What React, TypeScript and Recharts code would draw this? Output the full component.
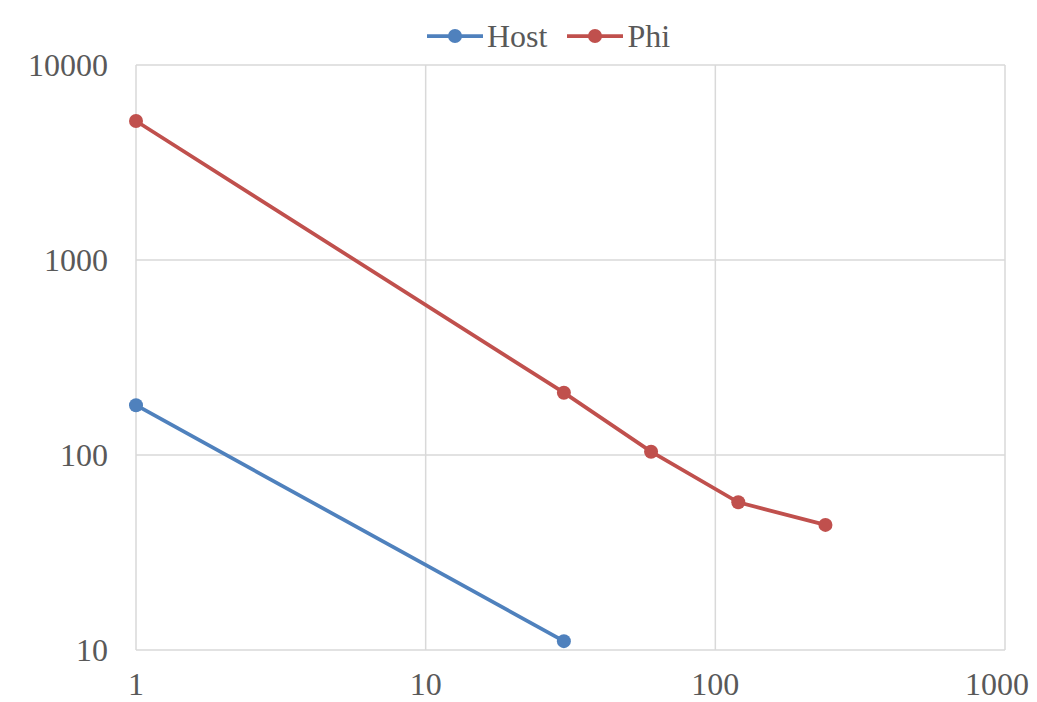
import { LineChart, Line, XAxis, YAxis, CartesianGrid, Legend } from "recharts";

const hostX = [1, 30];
const hostY = [180, 11.1];
const phiX = [1, 30, 60, 120, 240];
const phiY = [5160, 208.7, 104, 57.2, 43.8];
const xTicks = [1, 10, 100, 1000];
const yTicks = [10, 100, 1000, 10000];

const hostData = hostX.map((x, i) => ({ x, y: hostY[i] }));
const phiData = phiX.map((x, i) => ({ x, y: phiY[i] }));

const FONT = '"Liberation Serif", "Times New Roman", serif';
const TEXT = "#595959";

const LegendBox = (props: any) => {
  const items = props.payload || [];
  return (
    <div style={{ display: "flex", alignItems: "center", fontFamily: FONT, fontSize: 32, color: TEXT, lineHeight: "32px", height: 32 }}>
      {items.map((it: any, i: number) => (
        <div key={i} style={{ display: "flex", alignItems: "center", marginRight: i === 0 ? 20 : 0 }}>
          <svg width={56} height={20} style={{ display: "block" }}>
            <line x1={0} y1={10} x2={56} y2={10} stroke={it.color} strokeWidth={3.75} />
            <circle cx={28} cy={10} r={7} fill={it.color} />
          </svg>
          <span style={{ marginLeft: 4 }}>{it.value}</span>
        </div>
      ))}
    </div>
  );
};

const App = () => {
  return (
    <LineChart width={1021} height={694} margin={{ top: 57, right: 24, bottom: 12, left: 8 }}>
      <CartesianGrid stroke="#d9d9d9" strokeWidth={1.5} />
      <XAxis
        dataKey="x"
        type="number"
        scale="log"
        domain={[1, 1000]}
        ticks={xTicks}
        height={40}
        axisLine={false}
        tickLine={false}
        tickSize={0}
        tickMargin={22}
        tick={{ fontFamily: FONT, fontSize: 32, fill: TEXT }}
        allowDuplicatedCategory={false}
      />
      <YAxis
        dataKey="y"
        type="number"
        scale="log"
        domain={[10, 10000]}
        ticks={yTicks}
        width={120}
        axisLine={false}
        tickLine={false}
        tickSize={0}
        tickMargin={28}
        tick={{ fontFamily: FONT, fontSize: 32, fill: TEXT }}
        allowDataOverflow
      />
      <Legend
        verticalAlign="middle"
        align="center"
        content={<LegendBox />}
        wrapperStyle={{ top: 12, left: 419, width: "auto" }}
      />
      <Line
        data={hostData}
        dataKey="y"
        name="Host"
        stroke="#4F81BD"
        strokeWidth={3.75}
        dot={{ r: 7, fill: "#4F81BD", stroke: "#4F81BD", strokeWidth: 0 }}
        isAnimationActive={false}
      />
      <Line
        data={phiData}
        dataKey="y"
        name="Phi"
        stroke="#C0504D"
        strokeWidth={3.75}
        dot={{ r: 7, fill: "#C0504D", stroke: "#C0504D", strokeWidth: 0 }}
        isAnimationActive={false}
      />
    </LineChart>
  );
};

export default App;
